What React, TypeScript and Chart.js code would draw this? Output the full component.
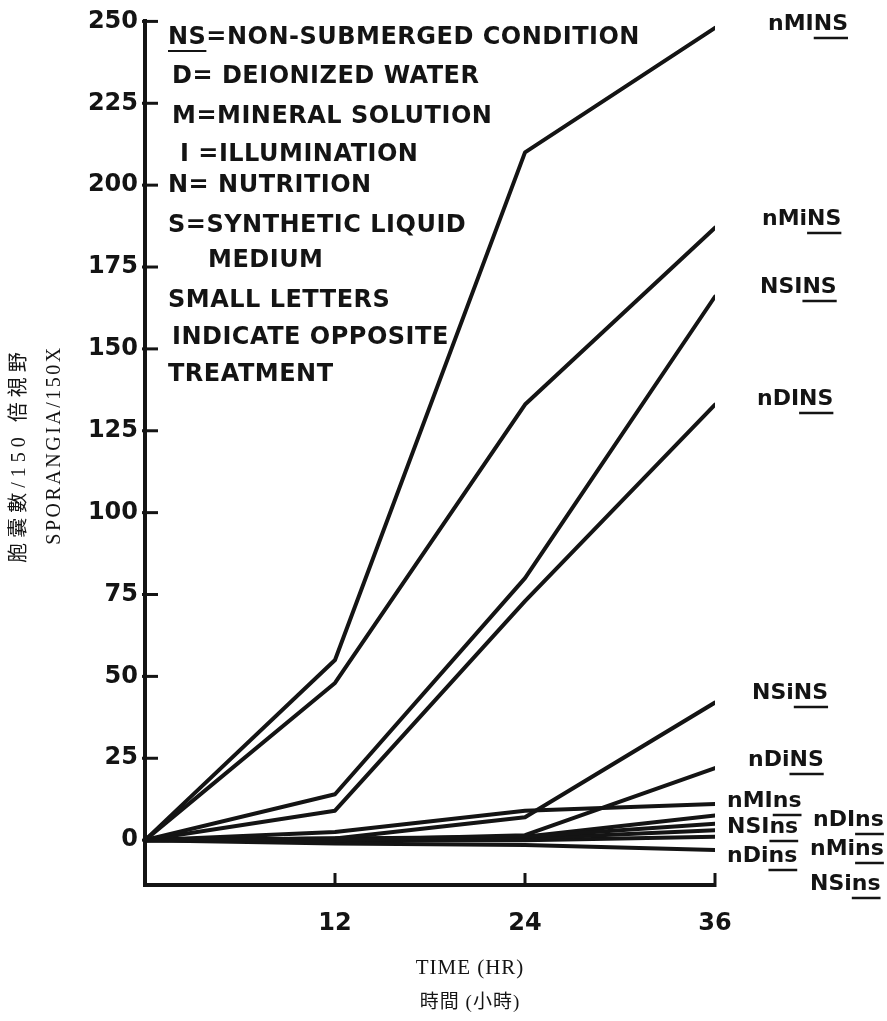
import React, { useEffect, useRef } from "react";
import { Chart, registerables } from "chart.js";

Chart.register(...registerables);

// ---------- data ----------
const HOURS = [0, 12, 24, 36];
const SERIES_NAMES = [
  "nMINS", "nMiNS", "NSINS", "nDINS", "NSiNS", "nDiNS",
  "nMIns", "NSIns", "nDins", "nDIns", "nMins", "NSins",
];
const nMINS = [0, 55, 210, 248];
const nMiNS = [0, 48, 133, 187];
const NSINS = [0, 14, 80, 166];
const nDINS = [0, 9, 73, 133];
const NSiNS = [0, 0.5, 7, 42];
const nDiNS = [0, 0, 1.5, 22];
const nMIns = [0, 2.5, 9, 11];
const NSIns = [0, 0, 1, 5];
const nDins = [0, -1, -1.5, -3];
const nDIns = [0, 0.5, 1, 7.5];
const nMins = [0, 0.5, 0.5, 3];
const NSins = [0, 0, 0, 1];
const SERIES_VALUES = [nMINS, nMiNS, NSINS, nDINS, NSiNS, nDiNS, nMIns, NSIns, nDins, nDIns, nMins, NSins];

const Y_TICKS = [0, 25, 50, 75, 100, 125, 150, 175, 200, 225, 250];
const X_TICKS = [12, 24, 36];

const KEY_LINES = [
  "NS=NON-SUBMERGED CONDITION",
  "D= DEIONIZED WATER",
  "M=MINERAL SOLUTION",
  "I =ILLUMINATION",
  "N= NUTRITION",
  "S=SYNTHETIC LIQUID",
  "MEDIUM",
  "SMALL LETTERS",
  "INDICATE OPPOSITE",
  "TREATMENT",
];
const Y_TITLE = ["胞囊數/150 倍視野", "SPORANGIA/150X"];
const X_TITLE = ["TIME (HR)", "時間 (小時)"];

// ---------- layout (pixels) ----------
const W = 887;
const H = 1021;
const AREA = { left: 145, right: 715, top: 20, bottom: 885 };
const KEY_POS = [
  [168, 38], [172, 77], [172, 117], [180, 155], [168, 186],
  [168, 226], [208, 261], [168, 301], [172, 338], [168, 375],
];
const LABEL_POS = [
  [768, 24], [762, 219], [760, 287], [757, 399], [752, 693], [748, 760],
  [727, 801], [727, 827], [727, 856], [813, 820], [810, 849], [810, 884],
];
const INK = "#141414";
const BOLD = "'DejaVu Sans', sans-serif";
const SERIF = "'Liberation Serif', 'Noto Sans CJK TC', serif";

const annotate = {
  id: "annotate",
  afterDraw(chart: any) {
    const ctx = chart.ctx as CanvasRenderingContext2D;
    const xs = chart.scales.x;
    const ys = chart.scales.y;
    ctx.save();
    ctx.strokeStyle = INK;
    ctx.fillStyle = INK;
    ctx.lineCap = "butt";

    // inward tick marks
    ctx.lineWidth = 3;
    const left = chart.chartArea.left;
    const bottom = chart.chartArea.bottom;
    Y_TICKS.forEach((v) => {
      const y = ys.getPixelForValue(v);
      ctx.beginPath();
      ctx.moveTo(left - 3, y);
      ctx.lineTo(left + 13, y);
      ctx.stroke();
    });
    X_TICKS.forEach((v) => {
      const x = xs.getPixelForValue(v);
      ctx.beginPath();
      ctx.moveTo(x, bottom + 2);
      ctx.lineTo(x, bottom - 12);
      ctx.stroke();
    });

    // key text
    ctx.font = `bold 24px ${BOLD}`;
    ctx.textBaseline = "middle";
    ctx.textAlign = "left";
    (ctx as any).letterSpacing = "0.5px";
    KEY_LINES.forEach((t, i) => {
      const [x, y] = KEY_POS[i];
      ctx.fillText(t, x, y);
      if (i === 0) {
        const w = ctx.measureText("NS").width;
        ctx.lineWidth = 2;
        ctx.beginPath();
        ctx.moveTo(x, y + 13);
        ctx.lineTo(x + w, y + 13);
        ctx.stroke();
      }
    });

    // series labels
    ctx.font = `bold 22px ${BOLD}`;
    (ctx as any).letterSpacing = "0px";
    SERIES_NAMES.forEach((t, i) => {
      const [x, y] = LABEL_POS[i];
      ctx.fillText(t, x, y);
      const pre = ctx.measureText(t.slice(0, t.length - 2)).width;
      const full = ctx.measureText(t).width;
      ctx.lineWidth = 2.5;
      ctx.beginPath();
      ctx.moveTo(x + pre, y + 14);
      ctx.lineTo(x + full, y + 14);
      ctx.stroke();
    });

    // axis titles
    ctx.textAlign = "center";
    ctx.font = `20px ${SERIF}`;
    (ctx as any).letterSpacing = "5px";
    ctx.save();
    ctx.translate(20, 455);
    ctx.rotate(-Math.PI / 2);
    ctx.fillText(Y_TITLE[0], 0, 0);
    ctx.restore();
    (ctx as any).letterSpacing = "2.5px";
    ctx.save();
    ctx.translate(55, 445);
    ctx.rotate(-Math.PI / 2);
    ctx.fillText(Y_TITLE[1], 0, 0);
    ctx.restore();

    ctx.font = `21px ${SERIF}`;
    (ctx as any).letterSpacing = "1px";
    ctx.fillText(X_TITLE[0], 470, 968);
    (ctx as any).letterSpacing = "1px";
    ctx.font = `19px ${SERIF}`;
    ctx.fillText(X_TITLE[1], 470, 1003);
    (ctx as any).letterSpacing = "0px";
    ctx.restore();
  },
};

export default function App() {
  const ref = useRef<HTMLCanvasElement | null>(null);
  useEffect(() => {
    if (!ref.current) return;
    const datasets = SERIES_NAMES.map((name, i) => ({
      label: name,
      data: HOURS.map((h, j) => ({ x: h, y: SERIES_VALUES[i][j] })),
      borderColor: INK,
      backgroundColor: INK,
      borderWidth: 4,
      pointRadius: 0,
      tension: 0,
      fill: false,
      borderJoinStyle: "round" as const,
      borderCapStyle: "round" as const,
    }));
    const chart = new Chart(ref.current, {
      type: "line",
      data: { datasets },
      options: {
        animation: false,
        responsive: false,
        layout: {
          padding: { left: 0, right: W - AREA.right, top: AREA.top, bottom: 0 },
        },
        plugins: { legend: { display: false }, tooltip: { enabled: false } },
        scales: {
          x: {
            type: "linear",
            min: 0,
            max: 36,
            afterFit: (s: any) => { s.height = H - AREA.bottom; },
            afterBuildTicks: (s: any) => { s.ticks = X_TICKS.map((v) => ({ value: v })); },
            grid: { display: false, drawTicks: false },
            border: { display: true, color: INK, width: 4 },
            ticks: {
              color: INK,
              font: { family: BOLD, size: 24, weight: "bold" },
              padding: 24,
              maxRotation: 0,
            },
          },
          y: {
            type: "linear",
            min: -13.7,
            max: 250,
            afterFit: (s: any) => { s.width = AREA.left; },
            afterBuildTicks: (s: any) => { s.ticks = Y_TICKS.map((v) => ({ value: v })); },
            grid: { display: false, drawTicks: false },
            border: { display: true, color: INK, width: 4 },
            ticks: {
              color: INK,
              font: { family: BOLD, size: 24, weight: "bold" },
              padding: 7,
            },
          },
        },
      },
      plugins: [annotate],
    });
    return () => chart.destroy();
  }, []);
  return (
    <div style={{ position: "absolute", left: 0, top: 0, width: W, height: H, background: "#fff" }}>
      <canvas ref={ref} width={W} height={H} style={{ display: "block" }} />
    </div>
  );
}
